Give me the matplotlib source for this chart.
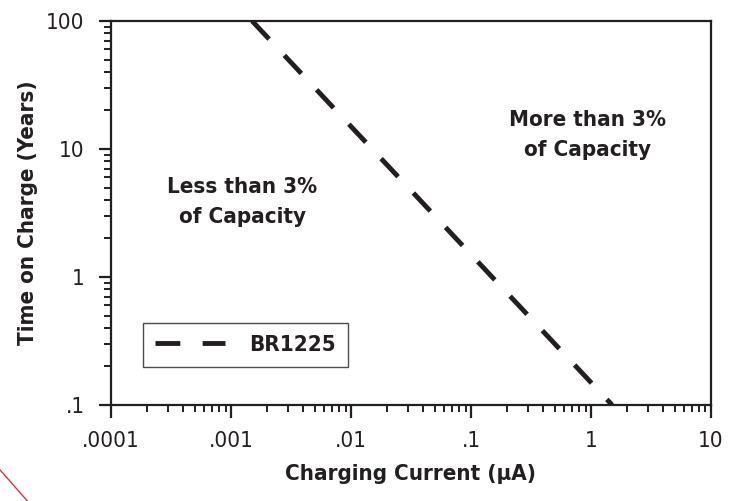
import matplotlib
matplotlib.use('Agg')
import matplotlib.pyplot as plt
from matplotlib.lines import Line2D
from matplotlib.ticker import FixedLocator, LogLocator, NullFormatter

# данные
current_ua = [0.0015, 1.5]        # ток заряда, мкА
time_years = [100, 0.1]           # время на заряде, годы
series_name = 'BR1225'

x_ticks = [0.0001, 0.001, 0.01, 0.1, 1, 10]
x_labels = ['.0001', '.001', '.01', '.1', '1', '10']
y_ticks = [0.1, 1, 10, 100]
y_labels = ['.1', '1', '10', '100']

ink = '#231f20'
plt.rcParams['font.family'] = ['DejaVu Sans']
plt.rcParams['font.stretch'] = 'condensed'

fig = plt.figure(figsize=(7.41, 5.01), dpi=100)
ax = fig.add_axes([0.1498, 0.1916, 0.8097, 0.7665])

ax.plot(current_ua, time_years, color=ink, linewidth=3.5,
        linestyle=(0, (5.1, 4.6)), label=series_name, solid_capstyle='butt')

ax.set_xscale('log')
ax.set_yscale('log')
ax.set_xlim(0.0001, 10)
ax.set_ylim(0.1, 100)

ax.xaxis.set_major_locator(FixedLocator(x_ticks))
ax.set_xticklabels(x_labels)
ax.yaxis.set_major_locator(FixedLocator(y_ticks))
ax.set_yticklabels(y_labels)
ax.xaxis.set_minor_locator(LogLocator(base=10, subs=range(2, 10)))
ax.yaxis.set_minor_locator(LogLocator(base=10, subs=range(2, 10)))
ax.xaxis.set_minor_formatter(NullFormatter())
ax.yaxis.set_minor_formatter(NullFormatter())

for s in ax.spines.values():
    s.set_linewidth(1.6)
    s.set_color(ink)
ax.tick_params(which='major', direction='out', length=9, width=1.6,
               color=ink, labelsize=16, labelcolor=ink, pad=10)
ax.tick_params(which='minor', direction='out', length=5, width=1.4, color=ink)

ax.set_xlabel('Charging Current (μA)', fontsize=16, fontweight='bold',
              color=ink, labelpad=9)
ax.set_ylabel('Time on Charge (Years)', fontsize=16, fontweight='bold',
              color=ink, labelpad=6)

ax.text(0.00124, 3.85, 'Less than 3%\nof Capacity', ha='center', va='center',
        fontsize=16, fontweight='bold', color=ink, linespacing=1.6)
ax.text(0.944, 12.9, 'More than 3%\nof Capacity', ha='center', va='center',
        fontsize=16, fontweight='bold', color=ink, linespacing=1.6)

leg = ax.legend(loc='lower left', bbox_to_anchor=(0.053, 0.099),
                borderaxespad=0, fancybox=False, handlelength=3.15,
                handletextpad=1.1, borderpad=0.55,
                prop={'size': 16, 'weight': 'bold'})
leg.get_frame().set_edgecolor(ink)
leg.get_frame().set_linewidth(1.0)
for t in leg.get_texts():
    t.set_color(ink)

# красная диагональ в углу
fig.add_artist(Line2D([0, 0.037], [0.062, 0.0], transform=fig.transFigure,
                      color='#e8202a', linewidth=0.9))

fig.savefig('out.png', dpi=100)
